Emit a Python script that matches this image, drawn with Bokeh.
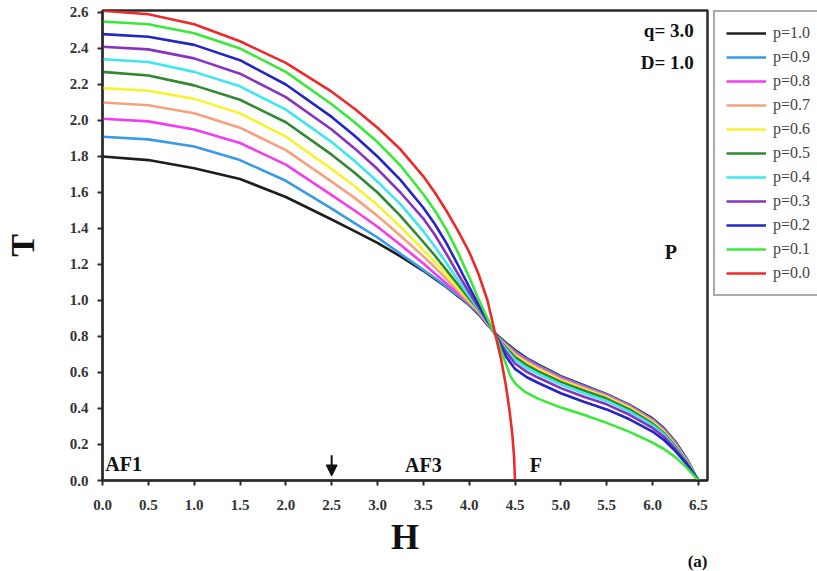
from bokeh.plotting import figure
from bokeh.layouts import row
from bokeh.models import (Label, Legend, LegendItem, Arrow, NormalHead, Title,
                          FixedTicker, NumeralTickFormatter)
from bokeh.embed import file_html
from bokeh.resources import INLINE

# Phase boundary T(H) for q = 3.0, D = 1.0 and several values of p
H_upper = [0.0, 0.5, 1.0, 1.5, 2.0, 2.5, 2.75, 3.0, 3.25, 3.5, 3.625, 3.75, 3.875,
           4.0, 4.1, 4.2, 4.3]
H_tail = [4.4, 4.5, 4.625, 4.75, 5.0, 5.25, 5.5, 5.75, 6.0, 6.125, 6.25, 6.375, 6.5]
H_common = H_upper + H_tail

T_p10 = [1.80, 1.78, 1.735, 1.675, 1.575, 1.45, 1.385, 1.32, 1.245, 1.165, 1.12, 1.075, 1.025,
         0.975, 0.925, 0.865, 0.81,
         0.765, 0.725, 0.68, 0.645, 0.58, 0.53, 0.48, 0.42, 0.345, 0.29, 0.215, 0.12, 0.0]
T_p09 = [1.91, 1.895, 1.855, 1.78, 1.665, 1.51, 1.43, 1.35, 1.26, 1.17, 1.125, 1.078, 1.03,
         0.978, 0.93, 0.87, 0.805,
         0.76, 0.718, 0.675, 0.64, 0.575, 0.525, 0.477, 0.417, 0.34, 0.285, 0.21, 0.115, 0.0]
T_p08 = [2.01, 1.995, 1.95, 1.875, 1.755, 1.585, 1.50, 1.41, 1.31, 1.205, 1.15, 1.095, 1.04,
         0.985, 0.935, 0.87, 0.80,
         0.755, 0.71, 0.668, 0.633, 0.57, 0.52, 0.473, 0.413, 0.335, 0.28, 0.205, 0.112, 0.0]
T_p07 = [2.10, 2.085, 2.04, 1.96, 1.835, 1.66, 1.57, 1.47, 1.36, 1.245, 1.185, 1.12, 1.055,
         0.99, 0.94, 0.875, 0.80,
         0.75, 0.703, 0.66, 0.626, 0.563, 0.514, 0.468, 0.408, 0.33, 0.275, 0.20, 0.11, 0.0]
T_p06 = [2.18, 2.165, 2.12, 2.04, 1.91, 1.73, 1.635, 1.53, 1.41, 1.28, 1.215, 1.145, 1.07,
         1.00, 0.945, 0.88, 0.80,
         0.745, 0.696, 0.652, 0.618, 0.556, 0.508, 0.463, 0.403, 0.325, 0.27, 0.195, 0.107, 0.0]
T_p05 = [2.27, 2.25, 2.195, 2.115, 1.99, 1.81, 1.71, 1.60, 1.47, 1.325, 1.25, 1.17, 1.09,
         1.01, 0.95, 0.88, 0.80,
         0.74, 0.686, 0.642, 0.608, 0.548, 0.50, 0.455, 0.395, 0.317, 0.263, 0.19, 0.104, 0.0]
T_p04 = [2.34, 2.325, 2.27, 2.19, 2.06, 1.88, 1.775, 1.66, 1.535, 1.385, 1.30, 1.21, 1.115,
         1.025, 0.955, 0.88, 0.80,
         0.73, 0.67, 0.625, 0.592, 0.533, 0.485, 0.442, 0.383, 0.307, 0.255, 0.183, 0.10, 0.0]
T_p03 = [2.41, 2.395, 2.345, 2.26, 2.13, 1.95, 1.845, 1.73, 1.60, 1.455, 1.365, 1.26, 1.15,
         1.045, 0.965, 0.885, 0.80,
         0.715, 0.65, 0.605, 0.572, 0.513, 0.465, 0.423, 0.365, 0.292, 0.243, 0.175, 0.095, 0.0]
T_p02 = [2.48, 2.465, 2.42, 2.335, 2.20, 2.02, 1.915, 1.80, 1.67, 1.515, 1.425, 1.32, 1.20,
         1.075, 0.98, 0.89, 0.80,
         0.69, 0.62, 0.575, 0.543, 0.485, 0.437, 0.395, 0.34, 0.272, 0.225, 0.163, 0.09, 0.0]

H_p01 = H_upper + [4.35, 4.4, 4.45, 4.5, 4.6, 4.75, 5.0, 5.25, 5.5, 5.75, 6.0, 6.125,
                   6.25, 6.375, 6.5]
T_p01 = [2.55, 2.535, 2.485, 2.40, 2.27, 2.09, 1.99, 1.88, 1.75, 1.59, 1.50, 1.395, 1.27,
         1.13, 1.01, 0.90, 0.79,
         0.72, 0.65, 0.58, 0.54, 0.495, 0.455, 0.405, 0.365, 0.32, 0.27, 0.21, 0.175,
         0.13, 0.07, 0.0]

H_p00 = [0.0, 0.5, 1.0, 1.5, 2.0, 2.5, 2.75, 3.0, 3.25, 3.5, 3.625, 3.75, 3.875, 4.0,
         4.1, 4.2, 4.25, 4.3, 4.35, 4.4, 4.44, 4.47, 4.49, 4.5]
T_p00 = [2.61, 2.59, 2.535, 2.44, 2.32, 2.16, 2.065, 1.96, 1.84, 1.69, 1.60, 1.50, 1.39, 1.27,
         1.15, 1.00, 0.89, 0.78, 0.67, 0.53, 0.39, 0.26, 0.13, 0.0]

p_labels = ["p=1.0", "p=0.9", "p=0.8", "p=0.7", "p=0.6", "p=0.5",
            "p=0.4", "p=0.3", "p=0.2", "p=0.1", "p=0.0"]
series_H = [H_common] * 9 + [H_p01, H_p00]
series_T = [T_p10, T_p09, T_p08, T_p07, T_p06, T_p05, T_p04, T_p03, T_p02, T_p01, T_p00]
colors = ["#1e1e1e", "#3a9ae8", "#f23cf0", "#f5a27c", "#f7f232", "#2f8a2f",
          "#3ee6f2", "#8a32c0", "#2424c8", "#3ae83a", "#ec2a2a"]

x_ticks = [0.0, 0.5, 1.0, 1.5, 2.0, 2.5, 3.0, 3.5, 4.0, 4.5, 5.0, 5.5, 6.0, 6.5]
y_ticks = [0.0, 0.2, 0.4, 0.6, 0.8, 1.0, 1.2, 1.4, 1.6, 1.8, 2.0, 2.2, 2.4, 2.6]

SERIF = "Liberation Serif"
LINE_W = 2.6

# ---- main phase diagram ----
p = figure(width=712, height=571, x_range=(0, 6.6), y_range=(0, 2.611),
           output_backend="svg", toolbar_location=None,
           min_border_left=99, min_border_right=5,
           min_border_top=10, min_border_bottom=91)
p.background_fill_color = "white"
p.border_fill_color = "white"
p.outline_line_color = "#2a2a2a"
p.outline_line_width = 2.5
p.xgrid.visible = False
p.ygrid.visible = False

for ax, ticks in ((p.xaxis, x_ticks), (p.yaxis, y_ticks)):
    ax.ticker = FixedTicker(ticks=ticks)
    ax.formatter = NumeralTickFormatter(format="0.0")
    ax.axis_line_width = 2
    ax.axis_line_color = "#2a2a2a"
    ax.major_tick_line_width = 2
    ax.major_tick_line_color = "#2a2a2a"
    ax.major_tick_in = 0
    ax.major_tick_out = 5
    ax.minor_tick_line_color = None
    ax.major_label_text_font = SERIF
    ax.major_label_text_font_style = "bold"
    ax.major_label_text_font_size = "15px"
    ax.major_label_text_color = "#333333"
    ax.axis_label_text_font = SERIF
    ax.axis_label_text_font_style = "bold"
    ax.axis_label_text_color = "#111111"

p.xaxis.major_label_standoff = 14
p.yaxis.major_label_standoff = 9
p.xaxis.axis_label = "H"
p.xaxis.axis_label_text_font_size = "36px"
p.xaxis.axis_label_standoff = 4
p.yaxis.axis_label = "T"
p.yaxis.axis_label_text_font_size = "34px"
p.yaxis.axis_label_standoff = 26

for hs, ts, col in zip(series_H, series_T, colors):
    p.line(hs, ts, line_color=col, line_width=LINE_W, line_join="round")

# Region names and parameter notes
notes = [
    (6.45, 2.50, "q= 3.0", "right", "19px"),
    (6.45, 2.32, "D= 1.0", "right", "19px"),
    (6.20, 1.27, "P", "center", "20px"),
    (0.03, 0.09, "AF1", "left", "20px"),
    (3.30, 0.085, "AF3", "left", "20px"),
    (4.66, 0.085, "F", "left", "20px"),
]
for x, y, txt, align, size in notes:
    p.add_layout(Label(x=x, y=y, text=txt, text_align=align, text_baseline="middle",
                       text_font=SERIF, text_font_style="bold",
                       text_font_size=size, text_color="#111111"))

# Panel tag, tucked up beside the axis label
p.add_layout(Title(text="(a)", align="right", standoff=-20, offset=0,
                   text_font=SERIF, text_font_style="bold",
                   text_font_size="17px", text_color="#111111"), "below")

p.add_layout(Arrow(end=NormalHead(size=11, fill_color="#111111", line_color="#111111"),
                   x_start=2.5, y_start=0.14, x_end=2.5, y_end=0.025,
                   line_width=2, line_color="#111111"))

# ---- key: same series, drawn outside the visible range so only the legend shows ----
key = figure(width=105, height=571, x_range=(100, 101), y_range=(100, 101),
             output_backend="svg", toolbar_location=None,
             min_border_left=1, min_border_right=0, min_border_top=9, min_border_bottom=0)
key.axis.visible = False
key.xgrid.visible = False
key.ygrid.visible = False
key.outline_line_color = None
key.background_fill_color = "white"
key.border_fill_color = "white"

items = []
for lab, hs, ts, col in zip(p_labels, series_H, series_T, colors):
    r = key.line(hs, ts, line_color=col, line_width=LINE_W)
    items.append(LegendItem(label=lab, renderers=[r]))

legend = Legend(items=items, location="top_left", margin=0,
                label_text_font=SERIF, label_text_font_size="16px",
                label_text_color="#444444",
                glyph_width=40, glyph_height=20, label_height=20,
                label_standoff=7, spacing=4, padding=11,
                border_line_color="#555555", border_line_width=2,
                background_fill_color="white", background_fill_alpha=1.0)
key.add_layout(legend, "center")

layout = row(p, key)
open("out.html", "w").write(file_html(layout, INLINE))
